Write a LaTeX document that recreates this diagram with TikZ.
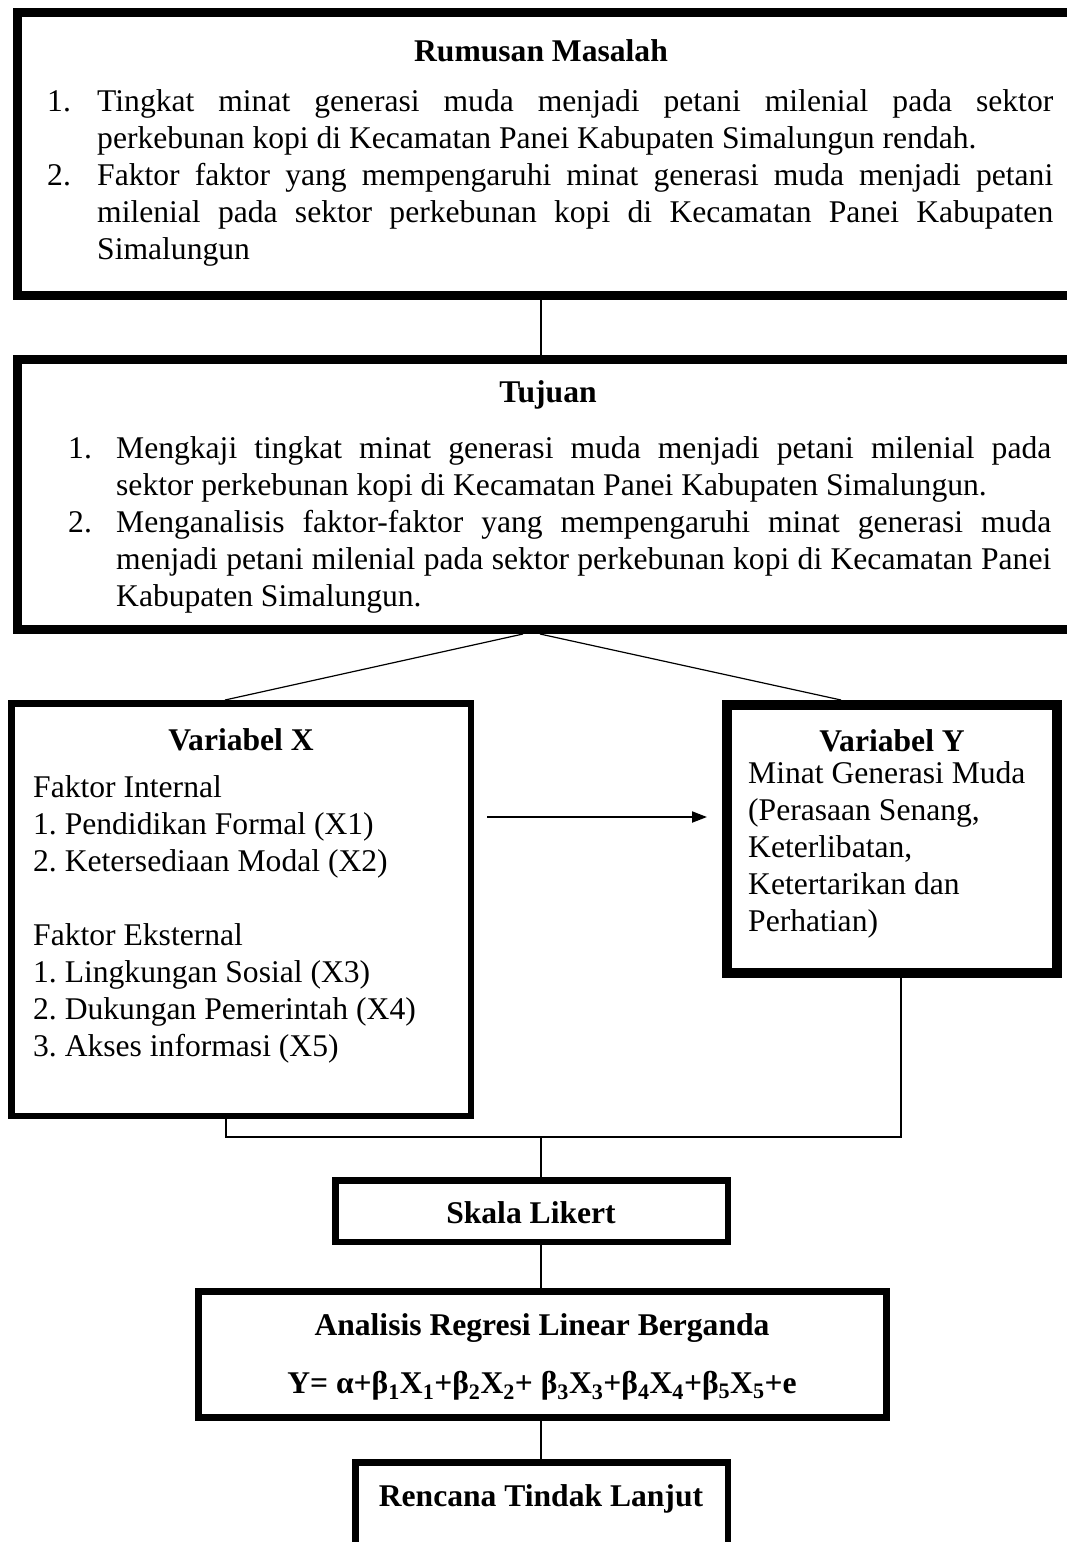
\documentclass[tikz,border=0pt]{standalone}
\usepackage{fontspec}
\setmainfont{Liberation Serif}
\usetikzlibrary{arrows.meta}
\newcommand\jl[2]{\makebox[#1][s]{#2}}
\tikzset{
  bigbox/.style={draw, line width=9pt, inner sep=0pt, outer sep=0pt, anchor=north west},
  midbox/.style={draw, line width=6.5pt, inner sep=0pt, outer sep=0pt, anchor=north west},
  ybox/.style={draw, line width=10pt, inner sep=0pt, outer sep=0pt, anchor=north west},
  conn/.style={line width=1.2pt},
  arrowline/.style={line width=2pt, -{Triangle[length=15pt,width=11pt]}},
  txt/.style={inner sep=0pt, font=\fontsize{31.6}{37}\selectfont\frenchspacing},
  ttl/.style={inner sep=0pt, font=\fontsize{31.6}{37}\selectfont\bfseries\frenchspacing},
}
\begin{document}
\begin{tikzpicture}[x=1pt,y=-1pt]
\useasboundingbox (0,0) rectangle (1067,1542);
\clip (0,0) rectangle (1067,1542);

% boxes
\node[bigbox, minimum width=1072.5pt, minimum height=283pt] (rm) at (17.5,12.5) {};
\node[bigbox, minimum width=1072.5pt, minimum height=270pt] (tj) at (17.5,359.5) {};
\node[midbox, minimum width=459.5pt, minimum height=412.5pt] (vx) at (11.25,703.25) {};
\node[ybox, minimum width=330pt, minimum height=268pt] (vy) at (727,705) {};
\node[midbox, minimum width=392.5pt, minimum height=61.5pt] (sk) at (335.25,1180.25) {};
\node[midbox, line width=7pt, minimum width=688pt, minimum height=126pt] (an) at (198.5,1291.5) {};
\node[midbox, minimum width=372.5pt, minimum height=140pt] (rt) at (355.25,1462.25) {};

% texts
\node[ttl, anchor=base] (t1) at (541,61) {Rumusan Masalah};
\node[txt, anchor=base west] (b1) at (47,111) {\parbox[t]{1010pt}{%
\makebox[50pt][l]{1.}\jl{956pt}{Tingkat minat generasi muda menjadi petani milenial pada sektor}\\
\hspace*{50pt}perkebunan kopi di Kecamatan Panei Kabupaten Simalungun rendah.\\
\makebox[50pt][l]{2.}\jl{956pt}{Faktor faktor yang mempengaruhi minat generasi muda menjadi petani}\\
\hspace*{50pt}\jl{956pt}{milenial pada sektor perkebunan kopi di Kecamatan Panei Kabupaten}\\
\hspace*{50pt}Simalungun}};

\node[ttl, anchor=base] (t2) at (548,402) {Tujuan};
\node[txt, anchor=base west] (b2) at (68,458) {\parbox[t]{990pt}{%
\makebox[48pt][l]{1.}\jl{935pt}{Mengkaji tingkat minat generasi muda menjadi petani milenial pada}\\
\hspace*{48pt}sektor perkebunan kopi di Kecamatan Panei Kabupaten Simalungun.\\
\makebox[48pt][l]{2.}\jl{935pt}{Menganalisis faktor-faktor yang mempengaruhi minat generasi muda}\\
\hspace*{48pt}\jl{935pt}{menjadi petani milenial pada sektor perkebunan kopi di Kecamatan Panei}\\
\hspace*{48pt}Kabupaten Simalungun.}};

\node[ttl, anchor=base] (tx) at (241,750) {Variabel X};
\node[txt, anchor=base west] (bx) at (33,797) {\parbox[t]{430pt}{%
Faktor Internal\\
1. Pendidikan Formal (X1)\\
2. Ketersediaan Modal (X2)\\[37pt]
Faktor Eksternal\\
1. Lingkungan Sosial (X3)\\
2. Dukungan Pemerintah (X4)\\
3. Akses informasi (X5)}};

\node[ttl, anchor=base] (ty) at (892,751) {Variabel Y};
\node[txt, anchor=base west] (by) at (748,783) {\parbox[t]{310pt}{%
Minat Generasi Muda\\
(Perasaan Senang,\\
Keterlibatan,\\
Ketertarikan dan\\
Perhatian)}};

\node[ttl, anchor=base] (ts) at (531,1223) {Skala Likert};
\node[ttl, anchor=base] (ta) at (542,1335) {Analisis Regresi Linear Berganda};
\node[ttl, anchor=base] (tf) at (542,1393) {Y= α+β\textsubscript{1}X\textsubscript{1}+β\textsubscript{2}X\textsubscript{2}+ β\textsubscript{3}X\textsubscript{3}+β\textsubscript{4}X\textsubscript{4}+β\textsubscript{5}X\textsubscript{5}+e};
\node[ttl, anchor=base] (tr) at (541,1506) {Rencana Tindak Lanjut};

% connector coordinates
\coordinate (cm) at (541,0);
\coordinate (cl) at (523,0);
\coordinate (cr) at (540,0);
\coordinate (xl) at (225,0);
\coordinate (yr) at (841,0);
\coordinate (arS) at (487,817);
\coordinate (arE) at (707,817);
\coordinate (bl) at (226,1137);
\coordinate (br) at (901,1137);
\coordinate (bm) at (541,1137);

% connectors
\draw[conn] (rm.south -| cm) -- (tj.north -| cm);
\draw[conn] ([yshift=-4.5pt]tj.south -| cl) -- ([yshift=3.25pt]vx.north -| xl);
\draw[conn] ([yshift=-4.5pt]tj.south -| cr) -- ([yshift=5pt]vy.north -| yr);
\draw[arrowline] (arS) -- (arE);
\draw[conn] (vx.south -| bl) -- (bl) -- (br) -- (vy.south -| br);
\draw[conn] (bm) -- (sk.north -| bm);
\draw[conn] (sk.south -| bm) -- (an.north -| bm);
\draw[conn] (an.south -| bm) -- (rt.north -| bm);
\end{tikzpicture}
\end{document}
